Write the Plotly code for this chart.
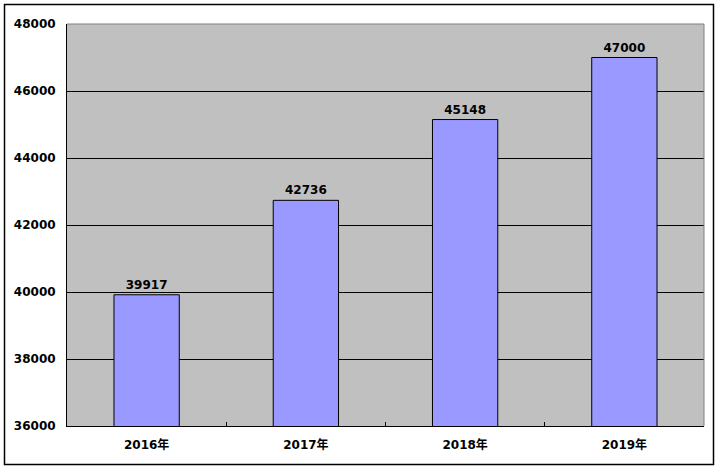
import plotly.graph_objects as go

categories = ["2016年", "2017年", "2018年", "2019年"]
values = [39917, 42736, 45148, 47000]
y_ticks = [36000, 38000, 40000, 42000, 44000, 46000, 48000]

W, H = 719, 470
L, R, T, B = 67, 704, 24, 426
pw, ph = R - L, B - T

font_fam = "DejaVu Sans, Noto Sans CJK SC"

fig = go.Figure(go.Bar(
    x=categories, y=values,
    marker=dict(color="#9999FF", line=dict(color="black", width=1)),
    width=0.41,
    text=[str(v) for v in values],
    textposition="outside",
    textfont=dict(family=font_fam, size=12, color="black", weight="bold"),
    cliponaxis=False,
))

def px(x):
    return (x - L) / pw

def py(y):
    return (B - y) / ph

fig.update_layout(
    width=W, height=H,
    margin=dict(l=L, r=W - R, t=T, b=H - B, pad=0),
    paper_bgcolor="white",
    plot_bgcolor="#C0C0C0",
    showlegend=False,
    font=dict(family=font_fam, size=12, color="black"),
    xaxis=dict(
        showline=True, linecolor="black", linewidth=1,
        ticks="inside", ticklen=4, tickcolor="black", tickson="boundaries",
        tickfont=dict(family=font_fam, size=12, weight="bold"),
        showgrid=False, ticklabelstandoff=8,
    ),
    yaxis=dict(
        range=[36000, 48000], tickvals=y_ticks, tickformat="d",
        showline=True, linecolor="black", linewidth=1,
        ticks="inside", ticklen=4, tickcolor="black",
        showgrid=True, gridcolor="black", gridwidth=1,
        tickfont=dict(family=font_fam, size=12, weight="bold"),
        ticklabelstandoff=8, zeroline=False,
    ),
    shapes=[
        dict(type="line", xref="paper", yref="paper", x0=0, x1=1, y0=1, y1=1,
             line=dict(color="#808080", width=1)),
        dict(type="line", xref="paper", yref="paper", x0=1, x1=1, y0=0, y1=1,
             line=dict(color="#808080", width=1)),
        dict(type="rect", xref="paper", yref="paper",
             x0=px(4.5), x1=px(713.5), y0=py(464.5), y1=py(4.5),
             line=dict(color="black", width=1.5), fillcolor="rgba(0,0,0,0)"),
    ],
)

fig.write_html("out.html", config={"displayModeBar": False},
               post_script="document.body.style.margin='0';")
